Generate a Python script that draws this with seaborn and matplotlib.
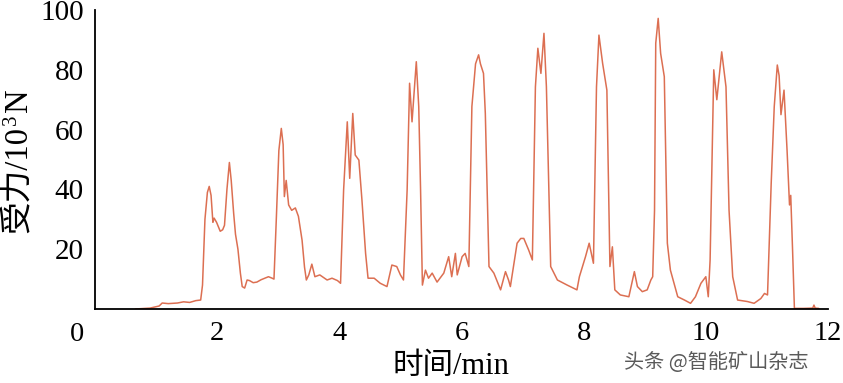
import matplotlib
matplotlib.use("Agg")
import matplotlib.pyplot as plt
import seaborn as sns
import pandas as pd

time_min = [0.66, 0.9, 1.05, 1.1, 1.2, 1.35, 1.45, 1.55, 1.65, 1.73, 1.76, 1.80, 1.84, 1.87, 1.90, 1.93, 1.95,
            1.99, 2.05, 2.09, 2.12, 2.16, 2.20, 2.23, 2.27, 2.30, 2.34, 2.38, 2.41, 2.45, 2.49, 2.53, 2.59,
            2.65, 2.72, 2.79, 2.84, 2.90, 2.93, 2.97, 3.01, 3.05, 3.08, 3.10, 3.13, 3.17, 3.22, 3.28, 3.33,
            3.39, 3.43, 3.46, 3.50, 3.55, 3.60, 3.68, 3.80, 3.88, 3.97, 4.02, 4.07, 4.13, 4.17, 4.22, 4.26,
            4.32, 4.37, 4.43, 4.47, 4.57, 4.67, 4.78, 4.86, 4.94, 5.00, 5.05, 5.11, 5.15, 5.19, 5.26, 5.30,
            5.33, 5.36, 5.41, 5.46, 5.52, 5.60, 5.71, 5.79, 5.84, 5.90, 5.93, 6.01, 6.06, 6.12, 6.17, 6.23,
            6.28, 6.31, 6.36, 6.39, 6.45, 6.53, 6.64, 6.72, 6.77, 6.80, 6.91, 6.97, 7.02, 7.10, 7.16, 7.21,
            7.25, 7.30, 7.35, 7.39, 7.46, 7.57, 7.73, 7.89, 7.93, 8.03, 8.09, 8.16, 8.21, 8.25, 8.31, 8.38,
            8.43, 8.47, 8.51, 8.60, 8.74, 8.83, 8.88, 8.96, 9.04, 9.10, 9.13, 9.16, 9.18, 9.22, 9.26, 9.32,
            9.37, 9.42, 9.54, 9.65, 9.75, 9.83, 9.92, 10.00, 10.04, 10.07, 10.13, 10.18, 10.26, 10.33, 10.38,
            10.44, 10.52, 10.68, 10.79, 10.90, 10.96, 11.01, 11.07, 11.12, 11.17, 11.20, 11.23, 11.28, 11.33,
            11.37, 11.39, 11.42, 11.45, 11.60, 11.75, 11.77, 11.79, 11.85]
force_kN = [0, 0.3, 1.0, 2.0, 1.8, 2.0, 2.4, 2.2, 2.8, 3.0, 8, 30, 39, 41, 38, 29, 30.4,
            29, 26, 26.5, 28, 40, 49, 43, 32, 25, 20, 12, 7.5, 7, 9.7, 9.5, 8.8,
            9.0, 9.8, 10.4, 10.8, 10.3, 10.0, 31, 53, 60.4, 55, 37.6, 43, 34.8, 33, 33.8, 31,
            23, 14, 9.7, 11.4, 15, 10.8, 11.4, 9.7, 10.3, 9.5, 8.6, 39.8, 62.6, 43.7, 65.4, 51.5,
            49.8, 36.5, 18.6, 10.3, 10.3, 8.6, 7.5, 14.7, 14.2, 11.4, 9.7, 39.8, 75.5, 62.6, 82.7, 67.7,
            39.8, 8.0, 13, 10.3, 12, 9, 12, 17.5, 10.8, 18.6, 11.4, 17.5, 18.6, 14.2, 67.7, 82,
            85, 82, 78.8, 65.4, 14.2, 12, 6.4, 12.5, 9.7, 7.5, 22, 23.6, 23.6, 19.7, 16.4, 74.3,
            87.2, 78.8, 92.2, 74.3, 14.2, 9.7, 8.0, 6.4, 10.8, 17.5, 22, 15.3, 74.3, 91.6, 82.2, 73.2,
            14.2, 20.8, 6.4, 4.7, 4.1, 12.5, 7.5, 5.8, 6.4, 9.7, 10.8, 33, 88.9, 97.2, 85.5, 77.7,
            22, 13, 4.1, 3.0, 1.9, 4.1, 8.6, 10.8, 4.1, 16.4, 80, 70, 86, 74.3, 33,
            10.8, 3.0, 2.5, 1.9, 3.5, 5.2, 4.7, 42, 67.7, 81.6, 78, 65, 73.2, 53,
            34.8, 38, 19.7, 0.2, 0.2, 0.3, 1.3, 0.3, 0.2]

x_ticks = [2, 4, 6, 8, 10, 12]
y_ticks = [20, 40, 60, 80, 100]
x_label = "时间/min"
y_label_parts = ["受力/10", "3", "N"]
watermark = "头条 @智能矿山杂志"

sns.set_theme(style="white")
plt.rcParams['font.family'] = ['Liberation Serif', 'Noto Sans CJK SC']

df = pd.DataFrame({"t": time_min, "F": force_kN})

W, H = 843, 383
fig = plt.figure(figsize=(W / 100, H / 100), dpi=100)
ax = fig.add_axes([95 / W, 1 - 309 / H, (828 - 95) / W, (309 - 10) / H])
sns.lineplot(data=df, x="t", y="F", ax=ax, color="#dc6f52", linewidth=1.1,
             estimator=None, sort=False)

ax.set_xlim(0, 12)
ax.set_ylim(0, 100)
ax.set_xticks(x_ticks)
ax.set_xticklabels([str(v) for v in x_ticks])
ax.set_yticks(y_ticks)
ax.set_yticklabels([str(v) for v in y_ticks])
ax.tick_params(axis='both', direction='in', length=7, width=1.3, labelsize=21,
               colors='black')
ax.tick_params(axis='y', pad=8)
ax.tick_params(axis='x', pad=9, labelsize=20.5)
for side in ['top', 'right']:
    ax.spines[side].set_visible(False)
for side in ['left', 'bottom']:
    ax.spines[side].set_color('black')
    ax.spines[side].set_linewidth(1.3)

ax.text(-0.024, -0.045, "0", transform=ax.transAxes, ha='center', va='top',
        fontsize=20.5, color='black')

ax.set_xlabel(x_label, fontsize=22, color='black')
ax.xaxis.set_label_coords((451 - 95) / (828 - 95), -(381 - 309) / (309 - 10), transform=ax.transAxes)
ax.xaxis.label.set_va('bottom')
ax.set_ylabel("")

# y label assembled with a real superscript
fig.canvas.draw()
renderer = fig.canvas.get_renderer()
xc = 19
y0 = H - 233
t1 = fig.text(xc / W, y0 / H, y_label_parts[0], rotation=90, ha='center', va='bottom',
              fontsize=23.5, color='black')
bb1 = t1.get_window_extent(renderer)
t2 = fig.text((xc - 8) / W, (bb1.y1 + 1) / H, y_label_parts[1], rotation=90, ha='center',
              va='bottom', fontsize=15, color='black')
bb2 = t2.get_window_extent(renderer)
t3 = fig.text(xc / W, (bb2.y1 + 3) / H, y_label_parts[2], rotation=90, ha='center',
              va='bottom', fontsize=23.5, color='black')

fig.text(716 / W, 1 - 362 / H, watermark, ha='center', va='center', fontsize=14.5,
         color='#5a5a5a', family=['Noto Sans CJK SC', 'DejaVu Sans'])

fig.savefig("out.png", dpi=100)
